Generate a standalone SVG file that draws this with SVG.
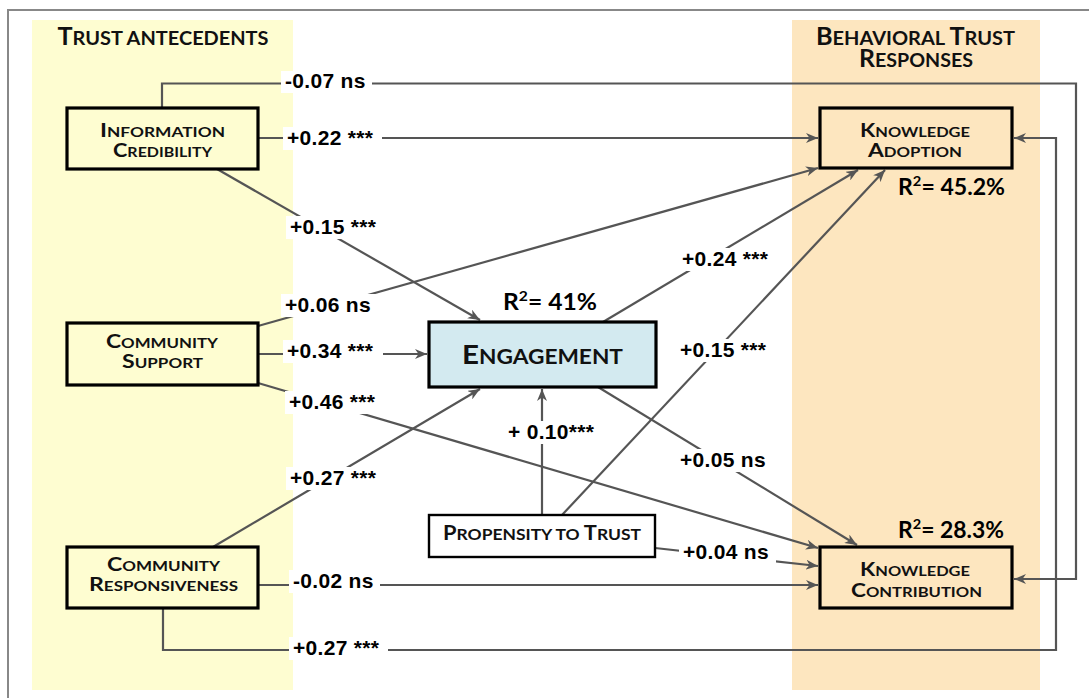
<svg xmlns="http://www.w3.org/2000/svg" width="1089" height="698" viewBox="0 0 1089 698">
<defs>
<marker id="ah" viewBox="0 0 12 10" refX="12" refY="5" markerWidth="12" markerHeight="10" orient="auto" markerUnits="userSpaceOnUse">
<path d="M0,0 L12,5 L0,10 L3.5,5 z" fill="#555"/>
</marker>
<style>
.conn{fill:none;stroke:#555;stroke-width:2.2}
.arr{marker-end:url(#ah)}
.box{stroke:#000;stroke-width:3.2}
.ant{fill:#FEFDD1}
.beh{fill:#FDE6BF}
.title{font-family:"Lato","Open Sans",sans-serif;font-weight:bold;fill:#111}
.lbl{font-family:"Liberation Sans",Arial,sans-serif;font-weight:bold;font-size:21px;fill:#000;letter-spacing:0.3px}
.bg{fill:#fff}
.r2{font-family:"Lato","Open Sans",sans-serif;font-weight:bold;font-size:22px;fill:#000}
</style>
</defs>
<rect x="0" y="0" width="1089" height="698" fill="#fff"/>
<path d="M8,700 V10 H1089" fill="none" stroke="#888" stroke-width="2"/>
<g id="panel-antecedents">
<rect x="32" y="20" width="261" height="670" fill="#FEFDD1"/>
<text class="title" x="163" y="45" text-anchor="middle" textLength="211" lengthAdjust="spacingAndGlyphs"><tspan font-size="24">T</tspan><tspan font-size="19">RUST ANTECEDENTS</tspan></text>
</g>
<g id="panel-responses">
<rect x="792" y="20" width="248" height="670" fill="#FDE6BF"/>
<text class="title" text-anchor="middle"><tspan x="915.5" y="45" textLength="199" lengthAdjust="spacingAndGlyphs"><tspan font-size="24">B</tspan><tspan font-size="19">EHAVIORAL </tspan><tspan font-size="24">T</tspan><tspan font-size="19">RUST</tspan></tspan><tspan x="916" y="67" textLength="114" lengthAdjust="spacingAndGlyphs"><tspan font-size="24">R</tspan><tspan font-size="19">ESPONSES</tspan></tspan></text>
</g>
<g id="connectors">
<path class="conn arr" d="M162,108 V83.5 H1076 V579 H1014"/>
<path class="conn arr" d="M163,608 V650 H1056 V138 H1014"/>
<path class="conn arr" d="M258,138 H818"/>
<path class="conn arr" d="M217,169 L480,320"/>
<path class="conn arr" d="M258,326 L818,168"/>
<path class="conn arr" d="M258,354 H427"/>
<path class="conn arr" d="M258,383 L818,548"/>
<path class="conn arr" d="M213,547 L480,389"/>
<path class="conn arr" d="M258,585 H818"/>
<path class="conn arr" d="M603,322 L858,170"/>
<path class="conn arr" d="M598,387 L857,545"/>
<path class="conn arr" d="M542,515 V389"/>
<path class="conn arr" d="M562,515 L885,170"/>
<path class="conn arr" d="M655,548 L818,566"/>
</g>
<g id="labels">
<rect class="bg" x="281" y="71" width="91" height="22"/><text class="lbl" x="285" y="88">-0.07 ns</text>
<rect class="bg" x="283" y="127" width="99" height="23"/><text class="lbl" x="287" y="145">+0.22 ***</text>
<rect class="bg" x="286" y="216" width="100" height="23"/><text class="lbl" x="290" y="234">+0.15 ***</text>
<rect class="bg" x="281" y="294" width="96" height="23"/><text class="lbl" x="285" y="312">+0.06 ns</text>
<rect class="bg" x="283" y="340" width="100" height="23"/><text class="lbl" x="287" y="358">+0.34 ***</text>
<rect class="bg" x="285" y="391" width="99" height="23"/><text class="lbl" x="289" y="409">+0.46 ***</text>
<rect class="bg" x="286" y="467" width="99" height="23"/><text class="lbl" x="290" y="485">+0.27 ***</text>
<rect class="bg" x="289" y="570" width="91" height="23"/><text class="lbl" x="293" y="588">-0.02 ns</text>
<rect class="bg" x="289" y="637" width="99" height="23"/><text class="lbl" x="293" y="655">+0.27 ***</text>
<rect class="bg" x="678" y="248" width="99" height="23"/><text class="lbl" x="682" y="266">+0.24 ***</text>
<rect class="bg" x="676" y="339" width="99" height="23"/><text class="lbl" x="680" y="357">+0.15 ***</text>
<rect class="bg" x="676" y="449" width="96" height="23"/><text class="lbl" x="680" y="467">+0.05 ns</text>
<rect class="bg" x="504" y="421" width="100" height="23"/><text class="lbl" x="508" y="439">+ 0.10***</text>
<rect class="bg" x="679" y="541" width="97" height="23"/><text class="lbl" x="683" y="559">+0.04 ns</text>
<text class="r2" x="503" y="310" textLength="94" lengthAdjust="spacingAndGlyphs">R<tspan font-size="14" dy="-9">2</tspan><tspan dy="9">= 41%</tspan></text>
<text class="r2" x="898" y="195" textLength="107" lengthAdjust="spacingAndGlyphs">R<tspan font-size="14" dy="-9">2</tspan><tspan dy="9">= 45.2%</tspan></text>
<text class="r2" x="898" y="538" textLength="106" lengthAdjust="spacingAndGlyphs">R<tspan font-size="14" dy="-9">2</tspan><tspan dy="9">= 28.3%</tspan></text>
</g>
<g id="information-credibility">
<rect class="box ant" x="67" y="108" width="191" height="61"/>
<text class="title" x="162.5" y="137" text-anchor="middle" textLength="125" lengthAdjust="spacingAndGlyphs"><tspan font-size="19">I</tspan><tspan font-size="14">NFORMATION</tspan></text>
<text class="title" x="162.5" y="157" text-anchor="middle" textLength="99" lengthAdjust="spacingAndGlyphs"><tspan font-size="19">C</tspan><tspan font-size="14">REDIBILITY</tspan></text>
</g>
<g id="community-support">
<rect class="box ant" x="67" y="323" width="191" height="62"/>
<text class="title" x="162" y="348" text-anchor="middle" textLength="112" lengthAdjust="spacingAndGlyphs"><tspan font-size="19">C</tspan><tspan font-size="14">OMMUNITY</tspan></text>
<text class="title" x="162.5" y="368" text-anchor="middle" textLength="81" lengthAdjust="spacingAndGlyphs"><tspan font-size="19">S</tspan><tspan font-size="14">UPPORT</tspan></text>
</g>
<g id="community-responsiveness">
<rect class="box ant" x="67" y="547" width="191" height="61"/>
<text class="title" x="163.5" y="571" text-anchor="middle" textLength="113" lengthAdjust="spacingAndGlyphs"><tspan font-size="19">C</tspan><tspan font-size="14">OMMUNITY</tspan></text>
<text class="title" x="163.5" y="591" text-anchor="middle" textLength="149" lengthAdjust="spacingAndGlyphs"><tspan font-size="19">R</tspan><tspan font-size="14">ESPONSIVENESS</tspan></text>
</g>
<g id="engagement">
<rect class="box" x="429" y="322" width="227" height="65" fill="#D3EAF0"/>
<text class="title" x="542.5" y="364" text-anchor="middle" textLength="161" lengthAdjust="spacingAndGlyphs"><tspan font-size="26">E</tspan><tspan font-size="20">NGAGEMENT</tspan></text>
</g>
<g id="propensity-to-trust">
<rect x="429" y="515" width="226" height="42" fill="#fff" stroke="#000" stroke-width="2.4"/>
<text class="title" x="542" y="540" text-anchor="middle" textLength="198" lengthAdjust="spacingAndGlyphs"><tspan font-size="20">P</tspan><tspan font-size="16">ROPENSITY TO </tspan><tspan font-size="20">T</tspan><tspan font-size="16">RUST</tspan></text>
</g>
<g id="knowledge-adoption">
<rect class="box beh" x="820" y="108" width="192" height="60"/>
<text class="title" x="915" y="137" text-anchor="middle" textLength="110" lengthAdjust="spacingAndGlyphs"><tspan font-size="19">K</tspan><tspan font-size="14">NOWLEDGE</tspan></text>
<text class="title" x="915" y="157" text-anchor="middle" textLength="94" lengthAdjust="spacingAndGlyphs"><tspan font-size="19">A</tspan><tspan font-size="14">DOPTION</tspan></text>
</g>
<g id="knowledge-contribution">
<rect class="box beh" x="820" y="547" width="192" height="61"/>
<text class="title" x="915" y="576" text-anchor="middle" textLength="110" lengthAdjust="spacingAndGlyphs"><tspan font-size="19">K</tspan><tspan font-size="14">NOWLEDGE</tspan></text>
<text class="title" x="916.5" y="597" text-anchor="middle" textLength="131" lengthAdjust="spacingAndGlyphs"><tspan font-size="19">C</tspan><tspan font-size="14">ONTRIBUTION</tspan></text>
</g>
</svg>
